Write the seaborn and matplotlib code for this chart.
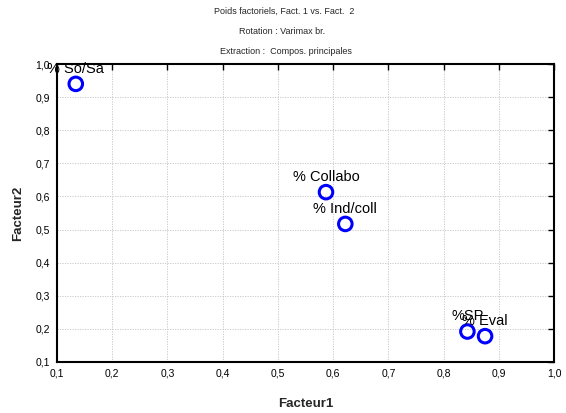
import matplotlib
matplotlib.use("Agg")
import matplotlib.pyplot as plt
import seaborn as sns
import pandas as pd

labels = ["% So/Sa", "% Collabo", "% Ind/coll", "%SP", "% Eval"]
fact1 = [0.134, 0.587, 0.622, 0.843, 0.875]
fact2 = [0.940, 0.613, 0.517, 0.192, 0.178]
ticks = [0.1, 0.2, 0.3, 0.4, 0.5, 0.6, 0.7, 0.8, 0.9, 1.0]
tick_labels = ["0,1", "0,2", "0,3", "0,4", "0,5", "0,6", "0,7", "0,8", "0,9", "1,0"]

sns.set_style("white")
plt.rcParams['font.family'] = ['Liberation Sans', 'DejaVu Sans']

df = pd.DataFrame({"Facteur1": fact1, "Facteur2": fact2, "label": labels})

fig = plt.figure(figsize=(5.66, 4.13), dpi=100)
ax = fig.add_axes([0.1007, 0.1235, 0.8783, 0.7215])

sns.scatterplot(data=df, x="Facteur1", y="Facteur2", ax=ax, s=95,
                facecolors="none", edgecolor="#0000ff", linewidth=2.2, zorder=3)

for lab, x, y in zip(labels, fact1, fact2):
    ax.annotate(lab, (x, y), xytext=(0, 6), textcoords="offset points",
                ha="center", va="bottom", fontsize=10.5, color="black", zorder=4)

ax.set_xlim(0.1, 1.0)
ax.set_ylim(0.1, 1.0)
ax.set_xticks(ticks)
ax.set_xticklabels(tick_labels)
ax.set_yticks(ticks)
ax.set_yticklabels(tick_labels)
ax.tick_params(direction="in", length=4, width=1, labelsize=7.5, colors="black",
               top=True, right=True, pad=5)
ax.grid(True, linestyle=(0, (1.5, 1.5)), color="#c4c4c4", linewidth=0.6)
for sp in ax.spines.values():
    sp.set_color("black")
    sp.set_linewidth(1.5)

ax.set_xlabel("Facteur1", fontsize=9.5, fontweight="bold", labelpad=14)
ax.set_ylabel("Facteur2", fontsize=9.5, fontweight="bold", labelpad=8)

fig.text(0.502, 0.972, "Poids factoriels, Fact. 1 vs. Fact.  2", ha="center", va="center", fontsize=6.5)
fig.text(0.498, 0.923, "Rotation : Varimax br.", ha="center", va="center", fontsize=6.5)
fig.text(0.505, 0.876, "Extraction :  Compos. principales", ha="center", va="center", fontsize=6.5)

fig.savefig("out.png", dpi=100)
